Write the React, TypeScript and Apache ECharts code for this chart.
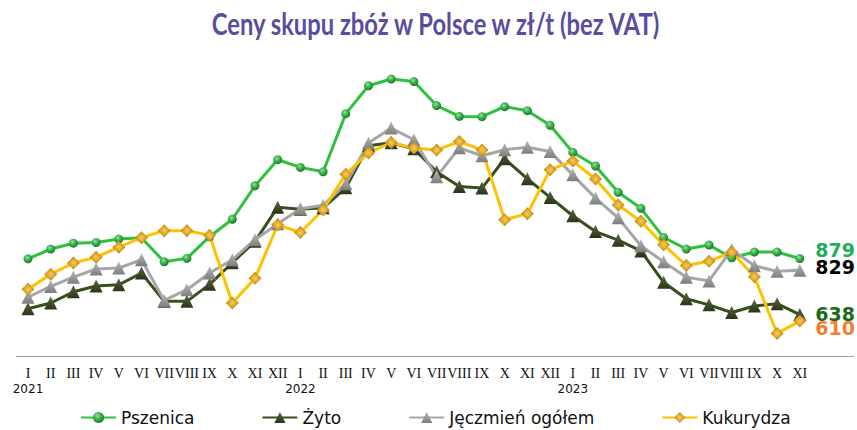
import React, { useEffect, useRef } from "react";
import * as echarts from "echarts";

const monthLabels = [
  "I", "II", "III", "IV", "V", "VI", "VII", "VIII", "IX", "X", "XI", "XII",
  "I", "II", "III", "IV", "V", "VI", "VII", "VIII", "IX", "X", "XI", "XII",
  "I", "II", "III", "IV", "V", "VI", "VII", "VIII", "IX", "X", "XI",
];
const yearLabels = [
  "2021", "", "", "", "", "", "", "", "", "", "", "",
  "2022", "", "", "", "", "", "", "", "", "", "", "",
  "2023", "", "", "", "", "", "", "", "", "", "",
];

const pszenica = [878, 920, 945, 948, 963, 968, 865, 880, 973, 1048, 1192, 1304, 1271, 1252, 1502, 1622, 1651, 1640, 1537, 1490, 1489, 1532, 1515, 1452, 1336, 1277, 1164, 1095, 970, 920, 937, 882, 907, 907, 879];
const zyto = [663, 688, 736, 761, 766, 817, 695, 695, 768, 861, 953, 1100, 1091, 1097, 1183, 1364, 1377, 1351, 1252, 1189, 1182, 1308, 1222, 1142, 1063, 995, 958, 912, 777, 706, 680, 647, 675, 685, 638];
const jeczmien = [713, 759, 799, 834, 838, 874, 699, 745, 817, 874, 960, 1029, 1093, 1108, 1201, 1376, 1440, 1390, 1231, 1355, 1321, 1347, 1358, 1339, 1239, 1139, 1054, 934, 865, 799, 783, 918, 848, 824, 829];
const kukurydza = [747, 812, 860, 885, 928, 969, 999, 999, 979, 688, 794, 1024, 991, 1089, 1242, 1333, 1378, 1354, 1346, 1382, 1346, 1046, 1072, 1261, 1298, 1221, 1109, 1039, 938, 849, 867, 907, 801, 557, 610];

const seriesNames = ["Pszenica", "Żyto", "Jęczmień ogółem", "Kukurydza"];
const titleText = "Ceny skupu zbóż w Polsce w zł/t (bez VAT)";

const TITLE_FONT = "bold 30px Lato";
const TITLE_TARGET_WIDTH = 451;

export default function App() {
  const ref = useRef<HTMLDivElement>(null);
  useEffect(() => {
    document.body.style.margin = "0";
    if (!ref.current) return;
    const chart = echarts.init(ref.current, undefined, { renderer: "svg" });
    const categories = monthLabels.map((m, i) => `${m}|${yearLabels[i]}|${i}`);

    let titleScale = 0.72;
    try {
      const ctx = document.createElement("canvas").getContext("2d");
      if (ctx) {
        ctx.font = TITLE_FONT;
        const w = ctx.measureText(titleText).width;
        if (w > 0) titleScale = TITLE_TARGET_WIDTH / w;
      }
    } catch (e) {
      /* keep default */
    }

    const withEndLabel = (arr: number[], color: string, dist: number, dy: number) =>
      arr.map((v, i) =>
        i === arr.length - 1
          ? {
              value: v,
              label: {
                show: true,
                position: "right",
                distance: dist,
                offset: [0, dy],
                formatter: "{c}",
                color,
                fontFamily: "DejaVu Sans",
                fontWeight: "bold",
                fontSize: 19,
                lineHeight: 14,
              },
            }
          : v
      );

    const greenMarker = new echarts.graphic.RadialGradient(0.4, 0.35, 0.65, [
      { offset: 0, color: "#8fe39a" },
      { offset: 0.5, color: "#3db04c" },
      { offset: 1, color: "#1f7a2c" },
    ]);
    const darkMarker = new echarts.graphic.LinearGradient(0, 0, 0, 1, [
      { offset: 0, color: "#5a6640" },
      { offset: 1, color: "#2b3319" },
    ]);
    const grayMarker = new echarts.graphic.LinearGradient(0, 0, 0, 1, [
      { offset: 0, color: "#b8b8b8" },
      { offset: 1, color: "#7d7d7d" },
    ]);
    const goldMarker = new echarts.graphic.RadialGradient(0.5, 0.5, 0.6, [
      { offset: 0, color: "#f7cf5a" },
      { offset: 0.6, color: "#d39a1c" },
      { offset: 1, color: "#9a6a0a" },
    ]);

    chart.setOption({
      animation: false,
      grid: { left: 16.65, width: 794.5, top: 56, height: 300 },
      xAxis: {
        type: "category",
        data: categories,
        boundaryGap: true,
        axisLine: { show: false },
        axisTick: { show: false },
        axisLabel: {
          interval: 0,
          margin: 9,
          formatter: (_v: string, idx: number) =>
            `{m|${monthLabels[idx]}}\n{y|${yearLabels[idx] || " "}}`,
          rich: {
            m: { fontFamily: "'Liberation Serif', serif", fontSize: 14, lineHeight: 16, color: "#111" },
            y: { fontFamily: "DejaVu Sans", fontSize: 12, lineHeight: 16, color: "#111" },
          },
        },
      },
      yAxis: {
        type: "value",
        min: 460,
        max: 1750,
        show: false,
        splitLine: { show: false },
      },
      legend: {
        left: 75,
        top: 404,
        itemWidth: 35,
        itemHeight: 14,
        itemGap: 67,
        textStyle: { fontFamily: "DejaVu Sans", fontSize: 17, color: "#111" },
        data: seriesNames,
      },
      graphic: [
        {
          type: "line",
          shape: { x1: 16, y1: 356.5, x2: 854, y2: 356.5 },
          style: { stroke: "#a3a3a3", lineWidth: 1 },
          silent: true,
        },
        {
          type: "text",
          x: 435.5,
          y: 23,
          scaleX: titleScale,
          style: {
            text: titleText,
            font: TITLE_FONT,
            fill: "#5a4d9e",
            align: "center",
            verticalAlign: "middle",
          },
          silent: true,
        },
      ],
      series: [
        {
          name: seriesNames[0],
          type: "line",
          data: withEndLabel(pszenica, "#1fae5a", 11, -9),
          symbol: "circle",
          symbolSize: 9,
          lineStyle: { color: "#2cc23c", width: 3 },
          itemStyle: { color: greenMarker, borderWidth: 0 },
        },
        {
          name: seriesNames[1],
          type: "line",
          data: withEndLabel(zyto, "#1b6a1b", 9, -1),
          symbol: "triangle",
          symbolSize: 13,
          lineStyle: { color: "#34501f", width: 3 },
          itemStyle: { color: darkMarker, borderWidth: 0 },
        },
        {
          name: seriesNames[2],
          type: "line",
          data: withEndLabel(jeczmien, "#000000", 9, -3),
          symbol: "triangle",
          symbolSize: 13,
          lineStyle: { color: "#a6a6a6", width: 3 },
          itemStyle: { color: grayMarker, borderWidth: 0 },
        },
        {
          name: seriesNames[3],
          type: "line",
          data: withEndLabel(kukurydza, "#f07f35", 9, 7),
          symbol: "diamond",
          symbolSize: 13,
          lineStyle: { color: "#ffc000", width: 3 },
          itemStyle: { color: goldMarker, borderWidth: 0 },
        },
      ],
    });
    return () => chart.dispose();
  }, []);
  return <div ref={ref} style={{ width: 857, height: 430 }} />;
}
